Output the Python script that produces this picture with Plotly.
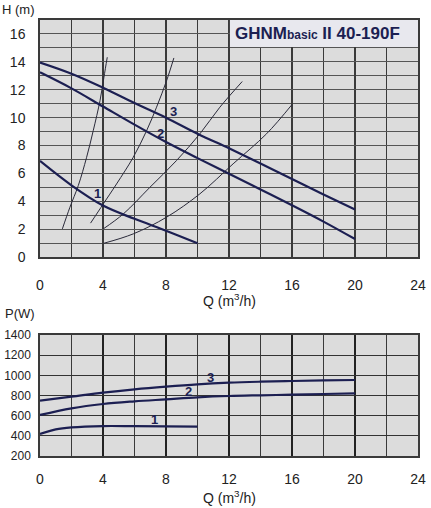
import plotly.graph_objects as go

# --- head curves H(Q), speeds 1..3
q_h = [0, 2, 4, 6, 8, 10, 12, 14, 16, 18, 20]
h3 = [13.95, 13.15, 12.15, 11.05, 10.0, 8.85, 7.8, 6.72, 5.6, 4.5, 3.42]
h2 = [13.25, 12.1, 10.8, 9.5, 8.25, 7.1, 5.98, 4.85, 3.72, 2.55, 1.3]
q_h1 = [0, 2, 4, 6, 8, 10]
h1 = [6.9, 5.15, 3.7, 2.75, 1.9, 1.0]

# --- system (pipe) curves
sysA_q = [1.42, 1.90, 2.43, 2.96, 3.38, 3.81, 4.06, 4.27]
sysA_h = [2.03, 3.58, 5.13, 7.16, 9.07, 11.22, 12.9, 14.33]
sysB_q = [3.21, 4.02, 4.86, 5.92, 6.77, 7.40, 8.04, 8.50]
sysB_h = [2.44, 3.82, 5.25, 7.16, 9.07, 10.75, 12.66, 14.28]
sysC_q = [4.02, 5.29, 6.98, 8.67, 10.15, 11.42, 12.84]
sysC_h = [2.03, 3.10, 5.01, 6.93, 8.84, 10.75, 12.59]
sysD_q = [4.06, 5.92, 8.04, 10.15, 12.26, 14.38, 16.0]
sysD_h = [1.0, 1.67, 2.87, 4.54, 6.69, 8.84, 10.94]

# --- power curves P(Q)
q_p = [0, 2, 4, 6, 8, 10, 12, 14, 16, 18, 20]
p3 = [749, 788, 828, 861, 888, 911, 927, 937, 944, 950, 954]
p2 = [607, 673, 716, 742, 762, 782, 795, 802, 808, 815, 821]
q_p1 = [0, 1, 2, 4, 6, 8, 10]
p1 = [418, 464, 484, 497, 496, 494, 491]

# curve labels: (x, y, text)
h_labels = [(8.5, 10.44, "3"), (7.68, 8.84, "2"), (3.64, 4.54, "1")]
p_labels = [(10.83, 975, "3"), (9.41, 836, "2"), (7.3, 560, "1")]

navy = "#1c1f52"
grid = "#3a3a3a"
bg = "#dcdcdc"
font = "Liberation Sans, Arial, sans-serif"

fig = go.Figure()

for q, h in [(sysA_q, sysA_h), (sysB_q, sysB_h), (sysC_q, sysC_h), (sysD_q, sysD_h)]:
    fig.add_trace(go.Scatter(x=q, y=h, mode="lines", line=dict(color="#2a2a3a", width=1, shape="spline"),
                             xaxis="x", yaxis="y", showlegend=False))
for q, h in [(q_h, h3), (q_h, h2), (q_h1, h1)]:
    fig.add_trace(go.Scatter(x=q, y=h, mode="lines", line=dict(color=navy, width=2.2, shape="spline"),
                             xaxis="x", yaxis="y", showlegend=False))
for q, p in [(q_p, p3), (q_p, p2), (q_p1, p1)]:
    fig.add_trace(go.Scatter(x=q, y=p, mode="lines", line=dict(color=navy, width=2.2, shape="spline"),
                             xaxis="x2", yaxis="y2", showlegend=False))

ann = []
for x, y, t in h_labels:
    ann.append(dict(x=x, y=y, xref="x", yref="y", text="<b>%s</b>" % t, showarrow=False,
                    font=dict(size=13, color=navy)))
for x, y, t in p_labels:
    ann.append(dict(x=x, y=y, xref="x2", yref="y2", text="<b>%s</b>" % t, showarrow=False,
                    font=dict(size=13, color=navy)))

ann += [
    dict(x=-0.056, y=1.023, xref="paper", yref="paper", xanchor="center", yanchor="middle",
         showarrow=False, text="H (m)", font=dict(size=13, color="#222")),
    dict(x=12.25, y=16.0, xref="x", yref="y", xanchor="left", showarrow=False,
         text="<b>GHNM<span style='font-size:12px'>basic</span> II 40-190F</b>",
         font=dict(size=17, color=navy)),
    dict(x=12, y=0.358, xref="x", yref="paper", xanchor="center", yanchor="middle", showarrow=False,
         text="Q (m<sup>3</sup>/h)", font=dict(size=14, color="#222")),
    dict(x=12, y=-0.094, xref="x", yref="paper", xanchor="center", yanchor="middle", showarrow=False,
         text="Q (m<sup>3</sup>/h)", font=dict(size=14, color="#222")),
    dict(x=-0.053, y=0.326, xref="paper", yref="paper", xanchor="center", yanchor="middle",
         showarrow=False, text="P(W)", font=dict(size=13, color="#222")),
]

axis_common = dict(showline=True, linecolor=grid, linewidth=1.5, mirror=True, zeroline=False,
                   automargin=False)
tick14 = dict(size=14, color="#222", family=font)

fig.update_layout(
    width=431, height=508,
    margin=dict(l=40, r=13, t=20, b=52),
    paper_bgcolor="white", plot_bgcolor=bg,
    font=dict(family=font, color="#222"),
    xaxis=dict(domain=[0, 1], range=[0, 24], dtick=4, anchor="y", showgrid=True, gridcolor=grid,
               gridwidth=1.5, minor=dict(dtick=2, showgrid=True, gridcolor=grid, gridwidth=1.3),
               ticks="outside", ticklen=14, tickcolor="rgba(0,0,0,0)", tickfont=tick14, **axis_common),
    yaxis=dict(domain=[0.456, 1], range=[0, 17], dtick=2, anchor="x", showgrid=True, gridcolor="#555",
               gridwidth=1, minor=dict(dtick=1, showgrid=True, gridcolor="#555", gridwidth=1),
               ticks="outside", ticklen=10, tickcolor="rgba(0,0,0,0)", tickfont=tick14, **axis_common),
    xaxis2=dict(domain=[0, 1], range=[0, 24], dtick=4, anchor="y2", showgrid=True, gridcolor="#222",
                gridwidth=1.8, minor=dict(dtick=2, showgrid=True, gridcolor=grid, gridwidth=1.2),
                ticks="outside", ticklen=9, tickcolor="rgba(0,0,0,0)", tickfont=tick14, **axis_common),
    yaxis2=dict(domain=[0, 0.2775], range=[200, 1400], dtick=200, anchor="x2", showgrid=True,
                gridcolor="#333", gridwidth=1.2, ticks="outside", ticklen=5,
                tickcolor="rgba(0,0,0,0)", tickfont=dict(size=12, color="#222", family=font),
                **axis_common),
    shapes=[dict(type="rect", xref="x", yref="y", x0=12.06, x1=24, y0=15.06, y1=17, layer="between",
                 fillcolor="#e8e8ee", line=dict(width=0))],
    annotations=ann,
)

# page body has a default 8px margin; drop it so the figure fills the window
fig.write_html("out.html", config={"displayModeBar": False},
               post_script="document.body.style.margin = '0';")
